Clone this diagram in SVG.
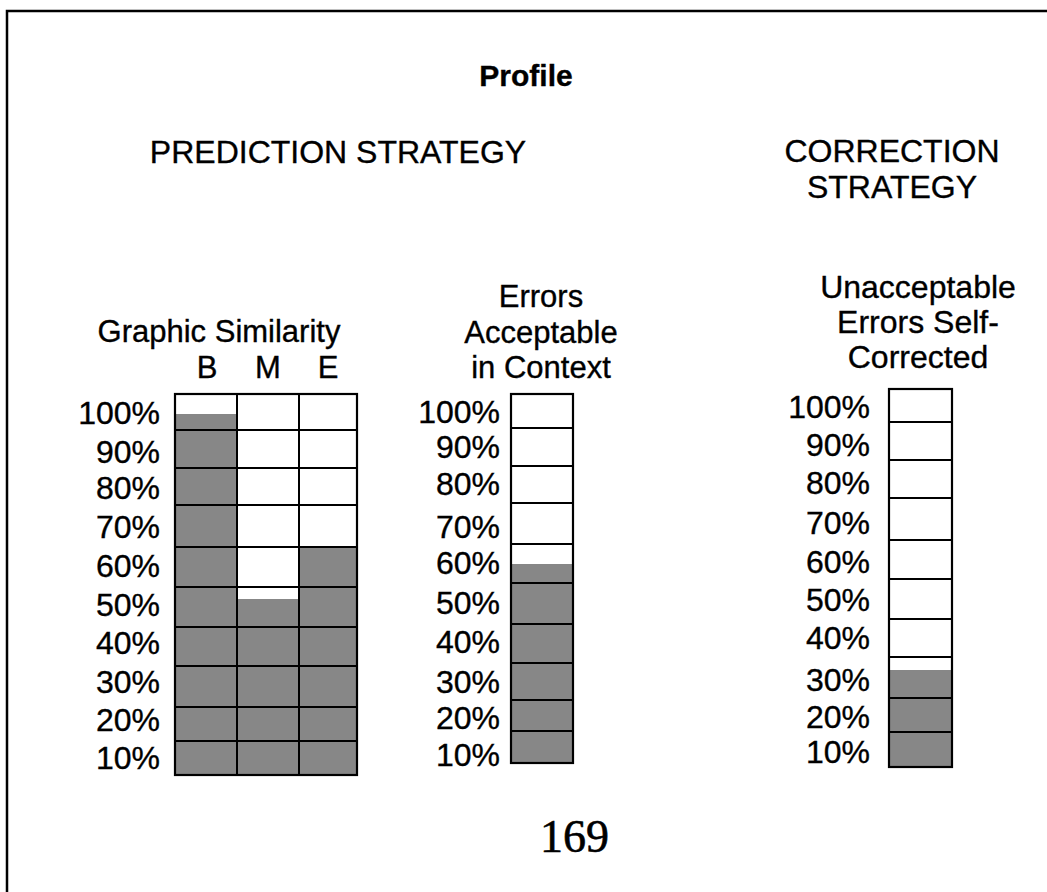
<svg xmlns="http://www.w3.org/2000/svg" width="1047" height="892" viewBox="0 0 1047 892">
<style>
text{font-family:"Liberation Sans",Arial,Helvetica,sans-serif;fill:#000;stroke:#000;stroke-width:0.35}
.t{font-size:32px;text-anchor:middle}
.s{font-size:31px;text-anchor:middle}
.p{font-size:32px;text-anchor:end}
.fill{fill:#878787}
.grid{stroke:#000;stroke-width:2;fill:none}
.box{stroke:#000;stroke-width:2.2;fill:none}
</style>
<rect width="1047" height="892" fill="#fff"/>
<path d="M7,892 V11 H1047" fill="none" stroke="#000" stroke-width="2.5"/>
<g id="titles">
<text x="526" y="86" style="font-size:30px;font-weight:bold;text-anchor:middle">Profile</text>
<text class="t" x="338" y="163">PREDICTION STRATEGY</text>
<text class="t" x="892" y="162">CORRECTION</text>
<text class="t" x="892" y="198">STRATEGY</text>
</g>
<g id="chart-graphic-similarity">
<text class="s" x="219" y="342">Graphic Similarity</text>
<text class="s" x="207" y="378">B</text>
<text class="s" x="268" y="378">M</text>
<text class="s" x="328" y="378">E</text>
<rect class="fill" x="175" y="414" width="62" height="361"/>
<rect class="fill" x="237" y="599" width="62" height="176"/>
<rect class="fill" x="299" y="546" width="58" height="229"/>
<path class="grid" d="M175,430H357 M175,468H357 M175,505H357 M175,547H357 M175,587H357 M175,627H357 M175,666H357 M175,707H357 M175,741H357 M237,394V775 M299,394V775"/>
<rect class="box" x="175" y="394" width="182" height="381"/>
<text class="p" x="160" y="424">100%</text>
<text class="p" x="160" y="463">90%</text>
<text class="p" x="160" y="499">80%</text>
<text class="p" x="160" y="538">70%</text>
<text class="p" x="160" y="577">60%</text>
<text class="p" x="160" y="616">50%</text>
<text class="p" x="160" y="654">40%</text>
<text class="p" x="160" y="693">30%</text>
<text class="p" x="160" y="731">20%</text>
<text class="p" x="160" y="769">10%</text>
</g>
<g id="chart-errors-acceptable">
<text class="s" x="541" y="307">Errors</text>
<text class="s" x="541" y="343">Acceptable</text>
<text class="s" x="541" y="378">in Context</text>
<rect class="fill" x="511" y="564" width="62" height="199"/>
<path class="grid" d="M511,428H573 M511,466H573 M511,503H573 M511,544H573 M511,583H573 M511,624H573 M511,663H573 M511,700H573 M511,731H573"/>
<rect class="box" x="511" y="394" width="62" height="369"/>
<text class="p" x="500" y="423">100%</text>
<text class="p" x="500" y="458">90%</text>
<text class="p" x="500" y="495">80%</text>
<text class="p" x="500" y="538">70%</text>
<text class="p" x="500" y="574">60%</text>
<text class="p" x="500" y="614">50%</text>
<text class="p" x="500" y="653">40%</text>
<text class="p" x="500" y="693">30%</text>
<text class="p" x="500" y="729">20%</text>
<text class="p" x="500" y="766">10%</text>
</g>
<g id="chart-self-corrected">
<text class="t" x="918" y="298">Unacceptable</text>
<text class="t" x="918" y="333">Errors Self-</text>
<text class="t" x="918" y="368">Corrected</text>
<rect class="fill" x="889" y="670" width="63" height="97"/>
<path class="grid" d="M889,422H952 M889,460H952 M889,498H952 M889,540H952 M889,579H952 M889,619H952 M889,657H952 M889,698H952 M889,732H952"/>
<rect class="box" x="889" y="389" width="63" height="378"/>
<text class="p" x="870" y="418">100%</text>
<text class="p" x="870" y="456">90%</text>
<text class="p" x="870" y="494">80%</text>
<text class="p" x="870" y="534">70%</text>
<text class="p" x="870" y="573">60%</text>
<text class="p" x="870" y="611">50%</text>
<text class="p" x="870" y="649">40%</text>
<text class="p" x="870" y="691">30%</text>
<text class="p" x="870" y="728">20%</text>
<text class="p" x="870" y="763">10%</text>
</g>
<g id="page-number">
<text x="540" y="852" style="font-family:'Liberation Serif','Times New Roman',serif;font-size:46px;stroke-width:0.6">169</text>
</g>
</svg>
